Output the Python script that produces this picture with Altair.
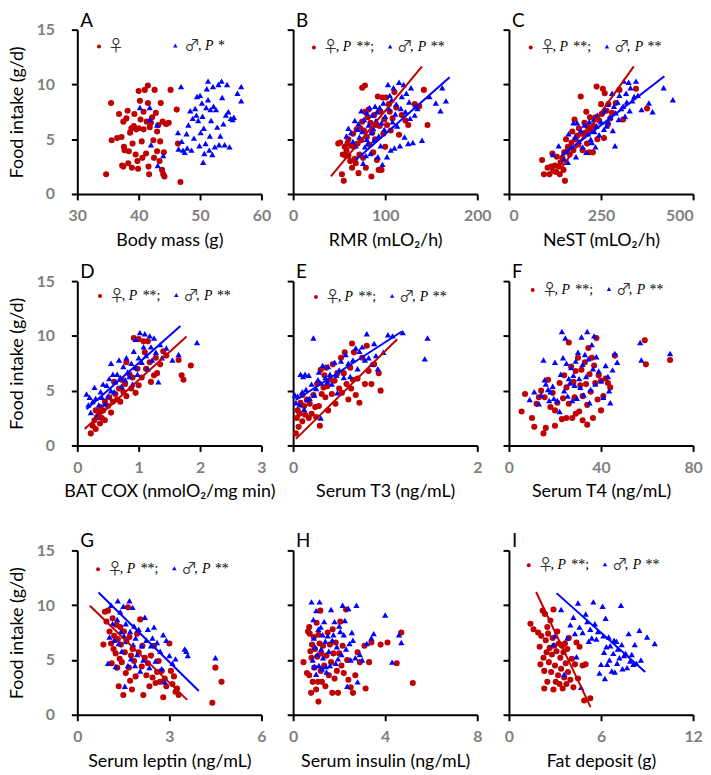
import altair as alt
import pandas as pd

RED = "#C00000"
BLUE = "#0000FF"
SANS = "Lato"
SERIF = "Liberation Serif"
SYMFONT = "Noto Sans CJK JP"

# ---------------- data (x, food intake g/d) ----------------
A_F = [(34.7,1.8),(35.5,8.3),(35.6,4.9),(36.5,5.1),(36.8,7.3),(37.2,5.2),(37.3,2.6),(37.5,2.5),(37.6,4.3),(37.7,4.0),
       (37.5,6.6),(38.0,6.9),(38.2,7.6),(38.3,2.8),(38.4,3.9),(38.6,5.6),(38.8,6.0),(38.9,2.4),(39.0,4.6),(39.2,6.2),
       (39.3,7.3),(39.5,3.6),(39.6,5.9),(39.8,3.0),(39.9,2.3),(40.0,6.0),(40.0,9.4),(40.2,8.5),(40.3,6.8),(40.5,4.8),
       (40.6,3.3),(40.8,7.5),(40.8,5.9),(41.0,9.5),(41.2,3.7),(41.3,6.6),(41.5,9.9),(41.5,8.3),(41.6,2.5),(41.7,1.8),
       (41.8,6.1),(42.0,6.5),(42.2,7.0),(42.4,4.9),(42.5,3.3),(42.6,9.5),(42.8,7.4),(43.0,5.7),(43.0,3.9),(43.2,6.3),
       (43.4,3.0),(43.5,4.8),(43.6,8.3),(43.8,2.2),(43.9,6.6),(44.0,1.8),(44.1,3.8),(44.2,1.6),(44.4,6.4),(44.6,6.4),
       (44.9,6.5),(45.2,9.5),(46.2,7.7),(46.4,4.6),(46.8,1.1)]
A_M = [(40.2,7.9),(41.8,7.9),(41.8,6.8),(42.0,4.5),(43.0,6.3),(43.1,2.6),(44.0,3.5),(46.4,5.6),(46.5,4.1),(46.9,9.8),
       (47.0,4.8),(47.2,4.0),(47.5,3.8),(47.8,5.5),(47.9,4.2),(48.1,6.3),(48.4,7.6),(48.6,4.0),(48.8,6.9),(49.0,5.1),
       (49.2,7.8),(49.4,7.2),(49.5,8.9),(49.7,6.7),(49.9,4.4),(50.0,9.0),(50.1,5.6),(50.3,8.3),(50.4,7.1),(50.5,2.9),
       (50.6,6.0),(50.7,3.7),(50.9,4.6),(51.0,7.9),(51.1,9.6),(51.3,10.3),(51.3,8.6),(51.5,4.0),(51.6,5.3),(51.7,7.7),
       (51.8,6.7),(52.0,3.6),(52.1,9.8),(52.2,8.0),(52.4,4.3),(52.6,7.7),(52.8,6.1),(53.0,10.0),(53.1,4.5),(53.3,5.3),
       (53.5,10.3),(53.6,8.8),(53.8,6.4),(54.0,4.5),(54.2,7.2),(54.4,10.0),(54.6,7.5),(54.8,4.3),(55.0,6.9),(55.3,6.8),
       (55.5,7.0),(56.7,9.8),(56.7,8.5),(56.1,9.2)]

B_F = [(49,4.6),(51,4.7),(53,1.8),(55,1.2),(54,3.6),(56,4.3),(57,3.5),(58,4.0),(59,4.6),(60,3.5),(60,5.0),(62,3.0),
       (63,4.4),(64,2.4),(65,5.5),(66,4.3),(67,3.2),(68,2.8),(69,5.9),(70,4.6),(71,1.9),(72,3.6),(73,6.0),(74,4.9),
       (75,9.7),(75,6.6),(76,3.3),(77,5.8),(78,9.9),(78,7.5),(79,2.4),(80,5.2),(81,7.0),(82,7.7),(83,4.5),(84,6.5),
       (85,1.6),(86,5.6),(87,3.8),(88,7.2),(89,5.0),(90,6.3),(91,3.1),(92,8.9),(93,2.2),(94,6.2),(95,7.5),(96,2.2),
       (97,8.8),(98,5.5),(99,6.8),(100,4.3),(101,8.8),(102,6.3),(104,8.2),(105,7.5),(106,5.8),(108,6.9),(110,9.3),
       (112,7.9),(115,5.4),(118,7.2),(122,6.7),(125,6.3),(132,8.2),(137,8.0),(142,9.5),(146,6.3)]
B_M = [(58,5.3),(60,6.0),(63,5.6),(65,4.8),(67,6.7),(68,4.4),(70,5.9),(71,6.4),(72,5.2),(74,7.6),(75,5.7),(76,2.8),
       (77,6.8),(78,4.3),(79,3.5),(80,7.4),(80,5.0),(81,4.6),(82,6.3),(83,7.9),(84,3.7),(85,5.6),(86,7.2),(87,6.0),
       (88,4.9),(89,8.0),(90,6.7),(91,7.5),(92,3.4),(93,5.3),(94,7.9),(95,4.4),(96,6.5),(97,2.7),(98,8.3),(99,5.9),
       (100,7.1),(102,3.4),(103,10.0),(104,7.8),(105,9.0),(106,4.0),(107,8.6),(108,6.6),(109,9.7),(110,4.2),(111,7.3),
       (112,8.2),(113,6.2),(115,10.2),(116,4.4),(117,7.8),(118,8.9),(120,10.0),(121,5.2),(122,7.5),(123,9.2),(125,4.6),
       (126,8.4),(127,6.9),(128,9.7),(130,4.7),(132,7.2),(133,8.0),(135,7.8),(140,4.9),(148,8.9),(155,8.3),(160,7.6),
       (162,9.7),(166,8.5)]
B_F_FIT = [(41,1.6),(140,11.65)]
B_M_FIT = [(68,3.1),(170,10.66)]

C_F = [(90,3.1),(95,1.8),(105,2.4),(110,1.8),(115,2.5),(118,3.7),(120,2.1),(125,2.6),(128,2.0),(130,3.4),(135,2.5),
       (138,1.8),(140,2.9),(145,3.3),(148,2.2),(150,3.8),(152,1.2),(155,5.0),(158,3.9),(160,4.3),(165,3.6),(170,4.7),
       (172,5.7),(175,4.0),(178,6.8),(180,5.0),(185,5.3),(188,4.5),(190,6.0),(195,8.9),(198,5.5),(200,4.0),(205,6.5),
       (208,5.6),(210,7.5),(212,4.6),(215,6.1),(218,3.8),(220,7.0),(225,5.8),(228,3.8),(230,6.2),(235,7.0),(238,9.8),
       (240,5.0),(245,6.7),(250,8.2),(252,7.3),(255,9.6),(258,5.1),(260,9.2),(265,7.6),(268,6.3),(270,8.2),(275,6.9),
       (280,7.4),(290,8.3),(300,9.5),(310,6.8),(345,9.6),(375,7.8)]
C_M = [(120,3.6),(135,4.4),(150,3.2),(155,3.9),(160,2.9),(162,5.5),(170,4.3),(175,6.5),(180,5.2),(182,3.4),(185,6.5),
       (190,4.8),(195,5.8),(200,4.3),(205,6.3),(210,3.8),(215,5.5),(218,6.6),(222,5.0),(225,4.7),(230,6.8),(232,5.7),
       (235,4.3),(238,6.2),(240,7.2),(245,5.4),(250,6.6),(255,7.5),(258,5.9),(260,7.7),(265,6.2),(268,8.2),(270,6.6),
       (275,7.0),(280,9.2),(282,5.8),(285,8.0),(288,4.4),(290,7.4),(295,8.4),(298,6.8),(300,9.0),(305,7.8),(310,8.0),
       (312,10.3),(315,7.1),(318,9.2),(320,8.4),(325,10.2),(328,7.6),(330,9.7),(335,8.5),(340,8.9),(345,10.3),(350,9.0),
       (360,7.7),(380,8.3),(390,7.5),(420,9.7),(445,8.6)]
C_F_FIT = [(143,2.4),(339,11.65)]
C_M_FIT = [(143,3.5),(422,10.75)]

D_F = [(0.22,1.1),(0.25,1.8),(0.28,2.3),(0.3,3.2),(0.3,1.5),(0.32,2.6),(0.35,3.0),(0.37,2.0),(0.38,3.5),(0.4,2.5),
       (0.42,3.2),(0.45,2.3),(0.45,4.0),(0.5,3.6),(0.52,4.4),(0.55,3.0),(0.58,4.0),(0.6,5.8),(0.62,4.7),(0.65,4.2),
       (0.68,5.2),(0.7,4.0),(0.72,6.0),(0.75,4.9),(0.78,5.6),(0.8,7.6),(0.8,4.5),(0.85,6.5),(0.88,5.2),(0.9,6.2),
       (0.92,9.8),(0.95,4.8),(0.98,7.0),(1.0,9.7),(1.0,5.5),(1.05,6.2),(1.08,9.5),(1.1,8.5),(1.12,7.0),(1.15,9.5),
       (1.18,7.6),(1.2,5.8),(1.25,6.4),(1.28,8.0),(1.3,6.6),(1.35,7.4),(1.4,8.6),(1.45,8.2),(1.65,7.8),(1.7,6.4),
       (1.73,6.0),(1.85,7.3)]
D_M = [(0.15,4.7),(0.18,3.7),(0.2,4.4),(0.22,3.0),(0.25,4.0),(0.28,5.3),(0.3,4.3),(0.32,2.6),(0.35,3.7),(0.38,4.9),
       (0.4,4.4),(0.42,5.6),(0.45,3.8),(0.48,5.5),(0.5,4.5),(0.52,6.1),(0.55,7.5),(0.55,5.0),(0.58,6.5),(0.6,4.9),
       (0.62,5.8),(0.65,6.5),(0.68,7.8),(0.7,6.2),(0.72,5.4),(0.75,7.2),(0.78,6.0),(0.8,8.0),(0.82,6.7),(0.85,6.3),
       (0.88,7.5),(0.9,5.6),(0.92,8.6),(0.95,9.7),(0.95,7.1),(0.98,6.5),(1.0,8.0),(1.02,10.3),(1.05,7.6),(1.08,9.0),
       (1.1,10.2),(1.12,8.2),(1.15,7.0),(1.18,10.0),(1.2,9.0),(1.22,7.8),(1.25,9.8),(1.28,8.5),(1.32,5.8),(1.35,9.2),
       (1.38,8.0),(1.45,8.9),(1.55,7.8),(1.65,8.3),(1.95,9.4)]
D_F_FIT = [(0.12,1.5),(1.78,9.94)]
D_M_FIT = [(0.15,3.3),(1.68,10.9)]

E_F = [(0.03,1.1),(0.04,2.5),(0.05,3.2),(0.06,1.7),(0.07,2.9),(0.08,3.9),(0.1,2.2),(0.1,4.6),(0.12,3.6),(0.13,2.8),
       (0.15,4.2),(0.17,2.5),(0.18,3.8),(0.2,2.9),(0.22,4.6),(0.24,3.5),(0.25,2.6),(0.26,5.6),(0.28,3.6),(0.29,1.8),
       (0.3,6.9),(0.31,4.7),(0.33,5.3),(0.34,6.4),(0.35,4.4),(0.36,7.1),(0.37,5.4),(0.38,3.2),(0.4,6.0),(0.42,4.7),
       (0.43,7.4),(0.45,5.9),(0.46,3.8),(0.48,6.6),(0.5,5.2),(0.52,8.0),(0.53,4.8),(0.55,6.6),(0.56,8.5),(0.58,5.6),
       (0.6,4.2),(0.62,7.1),(0.63,5.2),(0.64,9.3),(0.65,6.0),(0.66,8.5),(0.68,4.6),(0.7,6.1),(0.72,3.9),(0.75,8.0),
       (0.78,5.6),(0.8,9.1),(0.82,6.8),(0.85,5.6),(0.88,7.4),(0.93,6.6),(0.95,5.0)]
E_M = [(0.02,4.6),(0.03,3.9),(0.05,4.5),(0.07,3.7),(0.08,6.5),(0.1,4.9),(0.11,6.3),(0.12,3.3),(0.13,6.5),(0.14,5.1),
       (0.15,4.2),(0.17,6.4),(0.18,4.3),(0.2,5.6),(0.22,9.8),(0.23,4.6),(0.25,5.2),(0.27,6.0),(0.28,6.7),(0.3,5.7),
       (0.3,2.5),(0.32,7.3),(0.35,6.2),(0.37,5.8),(0.38,7.2),(0.4,6.5),(0.42,5.6),(0.45,7.6),(0.47,6.4),(0.48,4.8),
       (0.5,6.9),(0.52,7.7),(0.55,6.2),(0.57,8.3),(0.6,7.5),(0.62,6.3),(0.65,7.8),(0.68,8.9),(0.7,7.0),(0.72,8.6),
       (0.75,9.0),(0.78,7.8),(0.8,10.2),(0.82,8.0),(0.85,7.4),(0.88,9.3),(0.9,8.2),(0.92,7.0),(0.98,8.5),(1.03,10.1),
       (1.08,10.0),(1.19,10.3),(1.43,7.9),(1.46,9.8)]
E_F_FIT = [(0.03,0.6),(1.13,9.7)]
E_M_FIT = [(0.03,4.15),(1.18,10.4)]

F_F = [(5.5,3.1),(7,4.7),(10,2.5),(11,1.7),(12,3.8),(13,4.4),(14,5.0),(15,1.1),(15.5,4.4),(16,1.6),(17,6.0),(18,3.5),
       (19,4.8),(20,1.8),(20,3.2),(21,3.9),(22,5.7),(23,2.4),(23.5,4.3),(24,6.4),(25,2.5),(25,5.3),(26,9.4),(26,3.8),
       (27,7.2),(27.5,2.5),(28,5.8),(28.5,4.4),(29,2.9),(29,6.8),(30,8.0),(30.5,3.1),(31,5.5),(31.5,6.9),(32,2.3),
       (32,4.5),(33,7.6),(33.5,5.6),(34,1.9),(34,3.7),(34.5,8.9),(35,6.5),(35.5,4.9),(36,8.0),(36.5,2.5),(37,7.3),
       (37.5,5.7),(38,9.8),(38.5,4.2),(39,6.4),(40,5.9),(40,3.2),(41,4.5),(42,6.1),(43,5.7),(44,5.3),(46,8.2),
       (59,9.6),(59.5,7.4),(70,7.8)]
F_M = [(9,4.2),(11,4.9),(13,3.8),(14,4.6),(15,7.8),(15.5,6.0),(16,5.6),(17,5.1),(17.5,4.1),(18,4.9),(19,5.4),
       (19.5,4.3),(20,7.6),(21,4.1),(22,3.1),(22.5,6.5),(23,10.4),(23.5,8.0),(24,5.0),(24.5,9.8),(25,7.5),(25.5,4.5),
       (26,6.1),(26.5,5.7),(27,7.1),(27.5,4.1),(28,6.4),(28.5,5.5),(29,7.7),(29.5,4.3),(30,8.5),(30.5,6.1),(31,5.3),
       (31.5,9.9),(32,7.4),(32.5,4.6),(33,8.3),(33.5,6.3),(34,10.4),(34.5,7.9),(35,3.9),(35.5,5.1),(36,9.2),(36.5,7.0),
       (37,10.0),(37.5,5.6),(38,8.1),(39,6.8),(40,5.9),(41,4.4),(42,7.3),(43,6.3),(43.5,5.0),(44,3.9),(45,6.9),
       (46,8.4),(47,7.6),(57,9.4),(57.5,7.8),(70,8.4)]

G_F = [(0.85,6.4),(0.9,9.4),(0.95,8.5),(1.0,9.5),(1.05,7.6),(1.1,6.5),(1.12,4.7),(1.15,8.8),(1.18,6.0),(1.2,7.2),
       (1.25,5.6),(1.28,8.2),(1.3,4.3),(1.32,6.9),(1.35,2.6),(1.38,5.1),(1.4,8.0),(1.42,6.4),(1.45,4.8),(1.5,1.8),
       (1.52,7.6),(1.55,5.7),(1.58,3.8),(1.6,6.7),(1.65,9.8),(1.68,4.3),(1.7,7.1),(1.72,3.1),(1.75,5.4),(1.78,2.3),
       (1.8,6.0),(1.85,4.9),(1.9,3.5),(1.95,7.4),(2.0,5.7),(2.05,8.7),(2.1,4.4),(2.12,6.3),(2.15,1.8),(2.2,5.2),
       (2.25,3.6),(2.3,4.7),(2.35,2.6),(2.4,5.4),(2.45,3.4),(2.5,6.3),(2.55,2.9),(2.6,3.9),(2.65,4.9),(2.7,3.0),
       (2.75,4.0),(2.8,1.6),(2.85,3.3),(2.9,2.6),(3.0,6.5),(3.05,4.0),(3.1,2.8),(3.15,3.5),(3.2,2.1),(3.25,2.4),
       (3.3,1.8),(4.4,1.1),(4.5,4.3),(4.7,3.0)]
G_M = [(1.0,4.7),(1.05,7.1),(1.1,10.0),(1.15,8.3),(1.2,6.8),(1.25,4.4),(1.3,8.7),(1.32,10.4),(1.35,6.5),(1.4,9.4),
       (1.42,7.6),(1.45,5.8),(1.5,9.9),(1.52,7.2),(1.55,2.6),(1.58,8.3),(1.6,6.7),(1.65,4.5),(1.7,10.4),(1.72,7.6),
       (1.75,5.1),(1.8,9.8),(1.82,6.4),(1.85,8.1),(1.88,4.5),(1.9,7.0),(1.95,5.5),(2.0,7.8),(2.05,4.0),(2.1,6.3),
       (2.15,5.0),(2.2,8.9),(2.25,6.8),(2.3,7.8),(2.35,4.3),(2.4,6.3),(2.45,7.0),(2.5,8.0),(2.55,4.9),(2.6,6.6),
       (2.7,5.8),(2.75,4.2),(2.8,7.3),(2.85,3.0),(2.9,6.8),(3.0,5.4),(3.1,4.7),(3.2,5.1),(3.5,6.0),(3.55,5.8),
       (3.6,5.4),(4.5,5.2)]
G_F_FIT = [(0.41,9.94),(3.58,1.36)]
G_M_FIT = [(0.69,11.15),(3.96,2.17)]

H_F = [(0.45,4.8),(0.6,3.8),(0.65,7.6),(0.7,8.0),(0.7,3.6),(0.72,7.4),(0.75,5.8),(0.78,2.0),(0.8,5.2),(0.82,6.4),
       (0.85,3.0),(0.9,7.1),(0.92,4.3),(0.95,6.0),(1.0,2.3),(1.02,8.4),(1.05,5.3),(1.08,3.0),(1.1,1.2),(1.1,7.3),
       (1.15,6.5),(1.18,9.5),(1.2,4.0),(1.22,5.6),(1.25,3.0),(1.3,6.3),(1.35,4.5),(1.4,2.6),(1.45,5.4),(1.5,7.5),
       (1.55,3.6),(1.6,6.4),(1.65,4.8),(1.7,2.0),(1.72,7.8),(1.75,5.6),(1.8,3.3),(1.85,6.6),(1.9,4.0),(1.95,2.0),
       (2.0,5.6),(2.05,8.5),(2.1,4.5),(2.15,6.3),(2.2,3.8),(2.3,9.6),(2.35,5.0),(2.4,3.2),(2.5,2.5),(2.6,2.0),
       (2.7,3.6),(2.8,5.7),(2.9,4.8),(3.1,6.3),(3.15,2.4),(3.3,4.8),(3.4,6.6),(3.8,6.4),(4.1,6.6),(4.5,4.7),
       (4.7,7.5),(5.2,2.9)]
H_M = [(0.8,10.3),(0.85,5.0),(0.88,8.7),(0.9,7.0),(0.92,4.4),(0.95,6.2),(1.0,3.7),(1.0,9.5),(1.05,5.5),(1.1,7.8),
       (1.12,4.5),(1.15,10.3),(1.2,8.0),(1.22,6.0),(1.25,4.2),(1.28,7.3),(1.3,5.2),(1.35,8.5),(1.4,6.7),(1.42,4.4),
       (1.45,3.9),(1.5,7.2),(1.55,5.8),(1.6,4.5),(1.65,9.6),(1.7,6.8),(1.75,7.3),(1.8,8.5),(1.85,4.7),(1.9,6.2),
       (1.95,5.1),(2.0,8.1),(2.05,7.6),(2.1,5.5),(2.15,10.0),(2.2,7.3),(2.25,8.6),(2.3,6.0),(2.35,2.6),(2.4,9.7),
       (2.45,6.5),(2.5,5.0),(2.55,7.5),(2.6,6.8),(2.7,5.2),(2.75,10.0),(2.8,3.0),(2.9,5.5),(3.0,5.0),(3.2,6.5),
       (3.4,7.0),(3.5,7.4),(4.0,9.1),(4.3,4.8),(4.6,7.3),(4.7,6.6)]

I_F = [(1.4,8.3),(1.6,7.8),(1.9,7.5),(2.0,6.2),(2.05,4.6),(2.1,7.2),(2.2,9.5),(2.25,5.2),(2.3,2.4),(2.3,4.0),
       (2.35,9.2),(2.4,6.8),(2.45,5.7),(2.5,8.0),(2.5,3.0),(2.55,7.4),(2.6,4.8),(2.65,6.1),(2.7,8.6),(2.75,3.9),
       (2.8,5.5),(2.85,7.0),(2.9,2.3),(2.9,9.6),(2.95,6.3),(3.0,4.5),(3.05,3.0),(3.1,5.8),(3.15,7.6),(3.2,3.6),
       (3.25,6.5),(3.3,2.8),(3.35,5.2),(3.4,4.2),(3.45,6.3),(3.5,2.4),(3.55,5.7),(3.6,3.4),(3.65,6.5),(3.7,4.7),
       (3.75,2.8),(3.8,6.0),(3.85,3.9),(3.9,7.0),(4.0,3.2),(4.1,5.1),(4.2,2.5),(4.3,4.6),(4.4,6.6),(4.5,3.3),
       (4.6,6.2),(4.8,4.5),(4.9,1.3),(5.0,4.6),(5.3,1.5)]
I_M = [(2.9,6.4),(3.0,7.2),(3.4,9.6),(3.6,3.7),(3.8,7.0),(4.0,8.2),(4.2,8.9),(4.3,7.4),(4.4,5.3),(4.5,10.2),
       (4.6,8.0),(4.7,2.5),(4.8,7.5),(5.0,9.2),(5.1,8.5),(5.2,6.7),(5.3,7.8),(5.4,7.0),(5.5,10.3),(5.6,8.3),
       (5.7,6.9),(5.8,7.6),(5.9,3.8),(6.0,4.6),(6.1,9.9),(6.15,7.2),(6.2,5.7),(6.25,3.3),(6.3,8.8),(6.35,6.2),
       (6.4,4.6),(6.5,7.1),(6.55,5.0),(6.6,6.3),(6.7,4.0),(6.8,5.6),(6.85,6.8),(6.9,3.9),(7.0,6.7),(7.05,4.7),
       (7.1,6.0),(7.2,5.2),(7.3,10.0),(7.35,6.4),(7.4,4.2),(7.5,5.4),(7.6,5.6),(7.7,4.3),(7.8,7.4),(7.9,4.9),
       (8.0,5.5),(8.1,4.6),(8.2,6.4),(8.3,4.7),(8.5,7.7),(8.6,5.0),(9.0,7.1),(9.5,6.5)]
I_F_FIT = [(1.77,11.2),(5.32,0.69)]
I_M_FIT = [(3.1,11.1),(8.88,3.9)]

Y_TICKS = [0, 5, 10, 15]
Y_TITLE = "Food intake (g/d)"

PANELS = [
    dict(key="A", xt="Body mass (g)", dom=[30, 60], ticks=[30, 40, 50, 60], f=A_F, m=A_M, ff=None, mf=None, leg=("A", 22, 17)),
    dict(key="B", xt="RMR (mLO₂/h)", dom=[0, 200], ticks=[0, 100, 200], f=B_F, m=B_M, ff=B_F_FIT, mf=B_M_FIT, leg=("full", 21, 18)),
    dict(key="C", xt="NeST (mLO₂/h)", dom=[0, 500], ticks=[0, 250, 500], f=C_F, m=C_M, ff=C_F_FIT, mf=C_M_FIT, leg=("full", 22, 18), flush=True),
    dict(key="D", xt="BAT COX (nmolO₂/mg min)", dom=[0, 3], ticks=[0, 1, 2, 3], f=D_F, m=D_M, ff=D_F_FIT, mf=D_M_FIT, leg=("full", 23, 15)),
    dict(key="E", xt="Serum T3 (ng/mL)", dom=[0, 2], ticks=[0, 1, 2], f=E_F, m=E_M, ff=E_F_FIT, mf=E_M_FIT, leg=("full", 23, 16)),
    dict(key="F", xt="Serum T4 (ng/mL)", dom=[0, 80], ticks=[0, 40, 80], f=F_F, m=F_M, ff=None, mf=None, leg=("full", 24, 9)),
    dict(key="G", xt="Serum leptin (ng/mL)", dom=[0, 6], ticks=[0, 3, 6], f=G_F, m=G_M, ff=G_F_FIT, mf=G_M_FIT, leg=("full", 21, 19)),
    dict(key="H", xt="Serum insulin (ng/mL)", dom=[0, 8], ticks=[0, 4, 8], f=H_F, m=H_M, ff=None, mf=None, leg=None),
    dict(key="I", xt="Fat deposit (g)", dom=[0, 12], ticks=[0, 6, 12], f=I_F, m=I_M, ff=I_F_FIT, mf=I_M_FIT, leg=("full", 20, 15)),
]

W, H = 186, 166
ONE = pd.DataFrame({"k": [0]})


def txt(s, x, y, italic=False, font=SERIF, size=14, color="black"):
    return alt.Chart(ONE).mark_text(
        text=s, align="left", baseline="alphabetic", font=font, fontSize=size,
        fontStyle="italic" if italic else "normal", color=color
    ).encode(x=alt.value(x), y=alt.value(y))


def sym(x, y, shape, color, size):
    return alt.Chart(ONE).mark_point(shape=shape, filled=True, size=size, color=color, opacity=1).encode(
        x=alt.value(x), y=alt.value(y))


def legend(spec):
    kind, dx, dy = spec
    tb = dy + 4
    fem = lambda x: txt("♀", x, tb + 1, font=SYMFONT, size=16, color="#333333")
    mal = lambda x: txt("♂", x, tb + 1, font=SYMFONT, size=16, color="#333333")
    if kind == "A":
        return [sym(dx, dy, "circle", RED, 16), fem(dx + 9),
                sym(dx + 77, dy - 1, "triangle-up", BLUE, 20), mal(dx + 86),
                txt(",", dx + 100, tb), txt("P", dx + 107, tb, True), txt("*", dx + 120, tb)]
    return [sym(dx, dy, "circle", RED, 16), fem(dx + 9), txt(",", dx + 22, tb),
            txt("P", dx + 29, tb, True), txt("**;", dx + 43, tb),
            sym(dx + 77, dy - 1, "triangle-up", BLUE, 20), mal(dx + 84),
            txt(",", dx + 97, tb), txt("P", dx + 105, tb, True), txt("**", dx + 118, tb)]


def panel(p, first):
    X = alt.X("x:Q", scale=alt.Scale(domain=p["dom"], nice=False, zero=False),
              axis=alt.Axis(values=p["ticks"], title=p["xt"], format="d", labelFlush=p.get("flush", False)))
    if first:
        yax = alt.Axis(values=Y_TICKS, title=Y_TITLE, format="d")
    else:
        yax = alt.Axis(values=Y_TICKS, title=None, labels=False)
    Y = alt.Y("y:Q", scale=alt.Scale(domain=[0, 15], nice=False), axis=yax)
    layers = [
        alt.Chart(pd.DataFrame(p["f"], columns=["x", "y"])).mark_point(
            shape="circle", filled=True, size=38, color=RED, opacity=1).encode(x=X, y=Y),
        alt.Chart(pd.DataFrame(p["m"], columns=["x", "y"])).mark_point(
            shape="triangle-up", filled=True, size=40, color=BLUE, opacity=1).encode(x=X, y=Y),
    ]
    for fit, col in ((p["ff"], RED), (p["mf"], BLUE)):
        if fit:
            layers.append(alt.Chart(pd.DataFrame(fit, columns=["x", "y"])).mark_line(
                color=col, strokeWidth=2).encode(x=X, y=Y))
    if p["leg"]:
        layers += legend(p["leg"])
    # panel letter
    layers.append(txt(p["key"], 3, -3, font=SANS, size=19))
    return alt.layer(*layers).properties(width=W, height=H)


rows = [alt.hconcat(*[panel(PANELS[r * 3 + c], c == 0) for c in range(3)], spacing=32, bounds="flush")
        for r in range(3)]
top = alt.vconcat(rows[0], rows[1], spacing=14)
chart = alt.vconcat(top, rows[2], spacing=32).properties(padding=0)

chart = chart.configure_view(stroke=None).configure_axis(
    grid=False, domainColor="black", domainWidth=2, tickColor="black", tickWidth=2, tickSize=6,
    labelColor="#7F7F7F", labelFont=SANS, labelFontWeight="bold", labelFontSize=16, labelOverlap=False,
    titleFont=SANS, titleFontWeight="normal", titleFontSize=18, titleColor="black",
).configure_axisY(labelPadding=17, titlePadding=10, labelFlush=False).configure_axisX(
    labelPadding=8, titlePadding=8)

chart.save("out.html", embed_options={"renderer": "svg", "actions": False})
